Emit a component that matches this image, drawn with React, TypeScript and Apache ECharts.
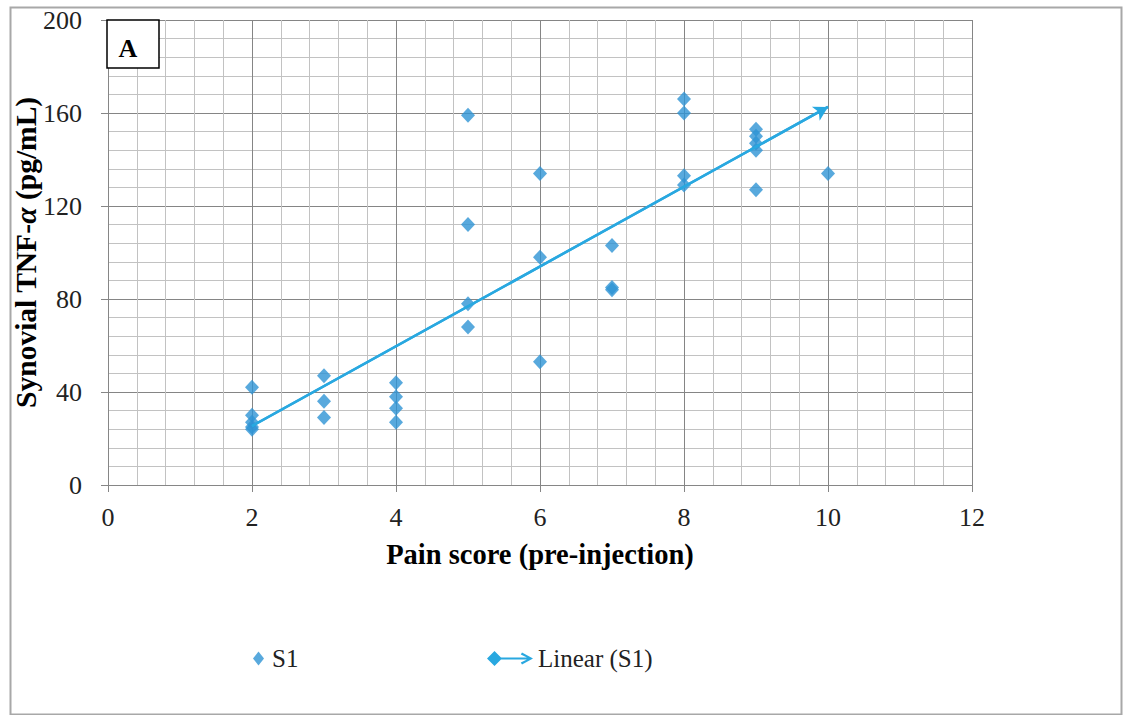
import React, { useEffect, useRef } from "react";
import * as echarts from "echarts";

const painScores = [2, 2, 2, 2, 2, 3, 3, 3, 4, 4, 4, 4, 5, 5, 5, 5, 6, 6, 6, 7, 7, 7, 8, 8, 8, 8, 9, 9, 9, 9, 9, 10];
const tnfValues = [42, 30, 27, 25, 24, 47, 36, 29, 44, 38, 33, 27, 159, 112, 78, 68, 134, 98, 53, 103, 85, 84, 166, 160, 133, 129, 153, 150, 147, 144, 127, 134];
const xTicks = [0, 2, 4, 6, 8, 10, 12];
const yTicks = [0, 40, 80, 120, 160, 200];
const seriesNames = ["S1", "Linear (S1)"];

const FONT = "'Liberation Serif', 'Times New Roman', serif";

function regression(xs: number[], ys: number[]) {
  const n = xs.length;
  const mx = xs.reduce((a, b) => a + b, 0) / n;
  const my = ys.reduce((a, b) => a + b, 0) / n;
  let sxy = 0;
  let sxx = 0;
  for (let i = 0; i < n; i++) {
    sxy += (xs[i] - mx) * (ys[i] - my);
    sxx += (xs[i] - mx) * (xs[i] - mx);
  }
  const slope = sxy / sxx;
  return { slope, intercept: my - slope * mx };
}

export default function App() {
  const ref = useRef<HTMLDivElement>(null);
  useEffect(() => {
    if (!ref.current) return;
    const chart = echarts.init(ref.current, null, { renderer: "svg" });
    const { slope, intercept } = regression(painScores, tnfValues);
    const xMin = Math.min(...painScores);
    const xMax = Math.max(...painScores);
    const trend = [
      [xMin, intercept + slope * xMin],
      [xMax, intercept + slope * xMax],
    ];
    const points = painScores.map((x, i) => [x, tnfValues[i]]);
    const lineIcon =
      "path://M0,7.5L7.5,0L15,7.5L7.5,15ZM14,6.4H42V8.6H14ZM35,1.5L46,7.5L35,13.5L33.8,11.6L42,7.5L33.8,3.4Z";

    chart.setOption({
      animation: false,
      backgroundColor: "#ffffff",
      grid: {
        left: 108,
        top: 20,
        width: 864,
        height: 465,
        containLabel: false,
        outerBoundsMode: "none",
      },
      xAxis: {
        type: "value",
        min: xTicks[0],
        max: xTicks[xTicks.length - 1],
        interval: xTicks[1] - xTicks[0],
        name: "Pain score (pre-injection)",
        nameLocation: "middle",
        nameGap: 55,
        nameMoveOverlap: false,
        nameTextStyle: { fontFamily: FONT, fontWeight: "bold", fontSize: 28.5, color: "#000" },
        axisLine: { show: true, onZero: false, lineStyle: { color: "#868686", width: 1 } },
        axisTick: { show: true, length: 7, lineStyle: { color: "#868686" } },
        axisLabel: { margin: 19, fontFamily: FONT, fontSize: 26, color: "#222" },
        splitLine: { show: true, lineStyle: { color: "#858585", width: 1 } },
        minorTick: { show: false, splitNumber: 5 },
        minorSplitLine: { show: true, lineStyle: { color: "#c2c2c2", width: 1 } },
      },
      yAxis: {
        type: "value",
        min: yTicks[0],
        max: yTicks[yTicks.length - 1],
        interval: yTicks[1] - yTicks[0],
        name: "Synovial TNF-{i|α} (pg/mL)",
        nameLocation: "middle",
        nameGap: 67,
        nameMoveOverlap: false,
        nameTextStyle: {
          fontFamily: FONT,
          fontWeight: "bold",
          fontSize: 29.5,
          color: "#000",
          rich: { i: { fontFamily: FONT, fontWeight: "bold", fontStyle: "italic", fontSize: 29.5, color: "#000" } },
        },
        axisLine: { show: true, lineStyle: { color: "#868686", width: 1 } },
        axisTick: { show: true, length: 7, lineStyle: { color: "#868686" } },
        axisLabel: { margin: 26, fontFamily: FONT, fontSize: 26, color: "#222" },
        splitLine: { show: true, lineStyle: { color: "#858585", width: 1 } },
        minorTick: { show: false, splitNumber: 5 },
        minorSplitLine: { show: true, lineStyle: { color: "#c2c2c2", width: 1 } },
      },
      legend: [
        {
          data: [{ name: seriesNames[0], icon: "diamond" }],
          left: 248,
          top: 641,
          itemWidth: 11,
          itemHeight: 14,
          textStyle: { fontFamily: FONT, fontSize: 25, color: "#222", padding: [0, 0, 0, 3] },
          selectedMode: false,
        },
        {
          data: [{ name: seriesNames[1], icon: lineIcon }],
          left: 482,
          top: 641,
          itemWidth: 46,
          itemHeight: 15,
          textStyle: { fontFamily: FONT, fontSize: 25, color: "#222" },
          selectedMode: false,
        },
      ],
      series: [
        {
          name: seriesNames[0],
          type: "scatter",
          symbol: "diamond",
          symbolSize: [14, 15],
          itemStyle: { color: "#2E93D5" },
          data: points,
          z: 3,
        },
        {
          name: seriesNames[1],
          type: "line",
          data: trend,
          showSymbol: false,
          symbol: "none",
          color: "#29A8E0",
          lineStyle: { color: "#29A8E0", width: 2.5 },
          z: 4,
          markLine: {
            silent: true,
            symbol: ["none", "arrow"],
            symbolSize: [12, 14],
            label: { show: false },
            lineStyle: { color: "#29A8E0", width: 2.5, type: "solid" },
            data: [[{ coord: trend[0] }, { coord: trend[1] }]],
          },
        },
      ],
      graphic: [
        {
          type: "rect",
          left: 8,
          top: 5,
          shape: { x: 0, y: 0, width: 1111, height: 707 },
          style: { fill: "none", stroke: "#a8a8a8", lineWidth: 2 },
          z: 0,
        },
        {
          type: "rect",
          shape: { x: 107, y: 20, width: 52, height: 48 },
          style: { fill: "#ffffff", stroke: "#000000", lineWidth: 1.5 },
          z: 10,
        },
        {
          type: "text",
          x: 128,
          y: 48,
          style: {
            text: "A",
            fontFamily: FONT,
            fontWeight: "bold",
            fontSize: 26,
            fill: "#000",
            textAlign: "center",
            textVerticalAlign: "middle",
          },
          z: 11,
        },
      ],
    });
    return () => chart.dispose();
  }, []);
  return (
    <div
      ref={ref}
      style={{ position: "fixed", left: 0, top: 0, width: 1127, height: 715, background: "#fff" }}
    />
  );
}
